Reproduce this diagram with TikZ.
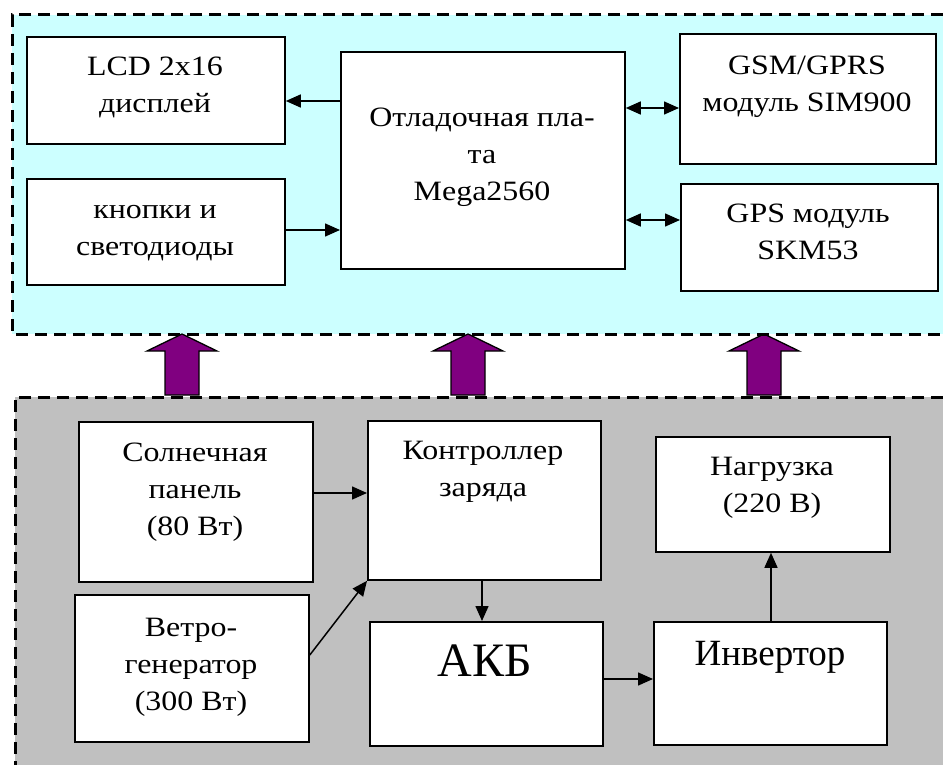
\documentclass[tikz,border=0pt]{standalone}
\usepackage{fontspec}
\setmainfont{Liberation Serif}
\newfontfamily\widefont[FakeStretch=1.14]{Liberation Serif}
\usetikzlibrary{arrows.meta}
\definecolor{cyanbg}{HTML}{CCFFFF}
\definecolor{graybg}{HTML}{C0C0C0}
\definecolor{arrowpurple}{HTML}{800080}
\tikzset{
  box/.style={draw, line width=1.8pt, fill=white, inner sep=0pt, anchor=north west, rectangle},
  txt/.style={font=\widefont\fontsize{28}{37}\selectfont, align=center, inner sep=0pt, anchor=north},
  conn/.style={line width=1.5pt, -{Triangle[length=15pt,width=13pt]}},
  dconn/.style={line width=1.5pt, {Triangle[length=15pt,width=13pt]}-{Triangle[length=15pt,width=13pt]}},
  panelborder/.style={line width=3pt, dash pattern=on 12pt off 7pt},
  uparrow/.pic={\draw[fill=arrowpurple, line width=1.3pt, line join=miter]
     (-17,0) -- (-17,44) -- (-35,44) -- (0,61) -- (35,44) -- (17,44) -- (17,0) -- cycle;}
}
\begin{document}
\begin{tikzpicture}[x=1pt, y=1pt]
\useasboundingbox (0,0) rectangle (943,-765);
% panels
\fill[cyanbg] (12,-15) rectangle (943,-334);
\fill[graybg] (15,-397) rectangle (943,-765);
% top boxes
\node[box, minimum width=258pt, minimum height=107pt] (lcd)  at (26,-36) {};
\node[box, minimum width=258pt, minimum height=106pt] (knop) at (26,-178) {};
\node[box, minimum width=284pt, minimum height=217pt] (mega) at (340,-51) {};
\node[box, minimum width=256pt, minimum height=130pt] (gsm)  at (679,-33) {};
\node[box, minimum width=257pt, minimum height=107pt] (gps)  at (680,-183) {};
% bottom boxes
\node[box, minimum width=234pt, minimum height=160pt] (sol)  at (78,-421) {};
\node[box, minimum width=233pt, minimum height=159pt] (ctrl) at (367,-420) {};
\node[box, minimum width=234pt, minimum height=115pt] (load) at (655,-436) {};
\node[box, minimum width=234pt, minimum height=147pt] (wind) at (74,-594) {};
\node[box, minimum width=233pt, minimum height=124pt] (akb)  at (369,-621) {};
\node[box, minimum width=233pt, minimum height=123pt] (inv)  at (653,-621) {};
% texts
\node[txt] (tlcd)  at (155,-49.1)  {\strut LCD 2x16\\дисплей};
\node[txt] (tknop) at (155,-192.1) {\strut кнопки и\\светодиоды};
\node[txt] (tmega) at (482,-100.1) {\strut Отладочная пла-\\та\\Mega2560};
\node[txt] (tgsm)  at (807,-48.1)  {\strut GSM/GPRS\\модуль SIM900};
\node[txt] (tgps)  at (808,-196.1) {\strut GPS модуль\\SKM53};
\node[txt] (tsol)  at (195,-435.1) {\strut Солнечная\\панель\\(80 Вт)};
\node[txt] (twind) at (191,-610.1) {\strut Ветро-\\генератор\\(300 Вт)};
\node[txt] (tctrl) at (483,-433.1) {\strut Контроллер\\заряда};
\node[txt] (tload) at (772,-449.1) {\strut Нагрузка\\(220 В)};
\node[font=\fontsize{48}{56}\selectfont, inner sep=0pt, anchor=base] (takb) at (485,-676) {АКБ};
\node[font=\fontsize{37}{44}\selectfont, inner sep=0pt, anchor=base] (tinv) at (770,-665) {Инвертор};
% connectors
\draw[conn] (mega.west |- 0,-101) -- (lcd.east |- 0,-101);
\draw[conn] (knop.east |- 0,-230) -- (mega.west |- 0,-230);
\draw[dconn] (mega.east |- 0,-108) -- (gsm.west |- 0,-108);
\draw[dconn] (mega.east |- 0,-220) -- (gps.west |- 0,-220);
\draw[conn] (sol.east |- 0,-493) -- (ctrl.west |- 0,-493);
\draw[conn] (wind.east |- 0,-655) -- (ctrl.south west);
\draw[conn] (ctrl.south -| 482,0) -- (akb.north -| 482,0);
\draw[conn] (akb.east |- 0,-679) -- (inv.west |- 0,-679);
\draw[conn] (inv.north -| 771,0) -- (load.south -| 771,0);
% purple block arrows
\pic at (182,-395) {uparrow};
\pic at (468,-395) {uparrow};
\pic at (764,-395) {uparrow};
% dashed panel borders
\draw[panelborder] (943,-15) -- (12,-15) -- (12,-334) -- (943,-334);
\draw[panelborder] (943,-397) -- (15,-397) -- (15,-765);
\end{tikzpicture}
\end{document}
